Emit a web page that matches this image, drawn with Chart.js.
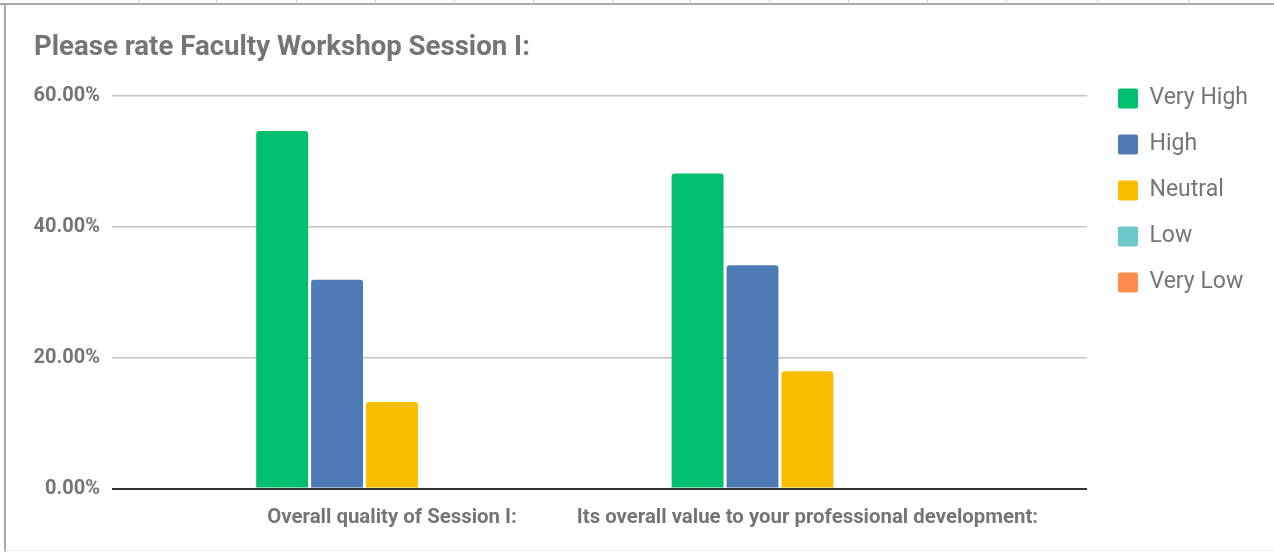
<!DOCTYPE html>
<html><head><meta charset="utf-8">
<script src="https://cdn.jsdelivr.net/npm/chart.js@4.4.0/dist/chart.umd.min.js"></script>
<style>
html,body{margin:0;padding:0;background:#fff;width:1274px;height:552px;overflow:hidden;}
#wrap{position:relative;width:1274px;height:552px;}
#frameTop{position:absolute;left:0;top:3px;width:1274px;height:2px;background:#a9a9a9;}
#frameLeft{position:absolute;left:4px;top:3px;width:2px;height:549px;background:#a9a9a9;}
#frameBottom{position:absolute;left:4px;top:550px;width:1270px;height:1px;background:#ededed;}
.cell{position:absolute;top:0;width:1px;height:4px;background:#cfcfcf;}
canvas{position:absolute;left:0;top:0;}
</style></head>
<body><div id="wrap">
<div id="frameTop"></div><div id="frameLeft"></div><div id="frameBottom"></div>
<div class="cell" style="left:139px"></div><div class="cell" style="left:216px"></div>
<div class="cell" style="left:296px"></div><div class="cell" style="left:375px"></div>
<div class="cell" style="left:454px"></div><div class="cell" style="left:533px"></div>
<div class="cell" style="left:612px"></div><div class="cell" style="left:690px"></div>
<div class="cell" style="left:769px"></div><div class="cell" style="left:848px"></div>
<div class="cell" style="left:927px"></div><div class="cell" style="left:1006px"></div>
<div class="cell" style="left:1097px"></div><div class="cell" style="left:1188px"></div>
<canvas id="c" width="1274" height="552"></canvas>
</div>
<script>
const categories = ['Overall quality of Session I:', 'Its overall value to your professional development:'];
const seriesNames = ['Very High', 'High', 'Neutral', 'Low', 'Very Low'];
const veryHigh = [54.6, 48.1];
const high = [31.9, 34.1];
const neutral = [13.2, 17.9];
const low = [0, 0];
const veryLow = [0, 0];
const yTicks = [0, 20, 40, 60];
const seriesColors = ['#00BF6F', '#4E7AB5', '#F9BE00', '#6CC8CA', '#FF8A4D'];
const seriesValues = [veryHigh, high, neutral, low, veryLow];

const FONT = 'Roboto, "Noto Sans", sans-serif';
const GRAY = '#757575';

const legendPlace = {
  id: 'legendPlace',
  beforeUpdate(chart) {
    const lg = chart.legend;
    if (lg && !lg._patched) {
      const f = lg.fit.bind(lg);
      lg.fit = function () { f(); this.width += 24; };
      lg._patched = true;
    }
  },
  afterLayout(chart) {
    const lg = chart.legend;
    if (!lg) return;
    lg.left += 8; lg.right += 8;
    lg.top += 64; lg.bottom += 64;
  }
};

new Chart(document.getElementById('c'), {
  type: 'bar',
  data: {
    datasets: seriesNames.map((name, k) => ({
      label: name,
      data: seriesValues[k].map((v, i) => ({ x: i, y: v })),
      backgroundColor: seriesColors[k],
      borderWidth: 0,
      borderRadius: 3,
      categoryPercentage: 0.661,
      barPercentage: 0.945
    }))
  },
  plugins: [legendPlace],
  options: {
    responsive: false,
    animation: false,
    events: [],
    layout: { padding: { left: 34, right: 0, top: 0, bottom: 13 } },
    plugins: {
      title: {
        display: true,
        text: 'Please rate Faculty Workshop Session I:',
        align: 'start',
        color: GRAY,
        font: { family: FONT, size: 27.6, weight: 'bold' },
        padding: { top: 32, bottom: 30.5 }
      },
      legend: {
        position: 'right',
        align: 'start',
        labels: {
          boxWidth: 20, boxHeight: 20, padding: 23,
          useBorderRadius: true, borderRadius: 2,
          color: GRAY,
          font: { family: FONT, size: 23 }
        }
      },
      tooltip: { enabled: false }
    },
    scales: {
      x: {
        type: 'linear',
        min: -0.674, max: 1.673,
        offset: false,
        grid: { display: false },
        border: { display: false },
        afterBuildTicks: s => { s.ticks = categories.map((c, i) => ({ value: i })); },
        ticks: {
          autoSkip: false, maxRotation: 0, padding: 9,
          color: GRAY,
          font: { family: FONT, size: 20.4, weight: 'bold' },
          callback: v => categories[v]
        }
      },
      y: {
        min: 0, max: 60,
        afterBuildTicks: s => { s.ticks = yTicks.map(v => ({ value: v })); },
        afterFit: s => { s.width = 78; },
        grid: {
          drawTicks: false,
          color: c => (c.tick && c.tick.value === 0) ? '#333333' : '#c4c4c4',
          lineWidth: c => (c.tick && c.tick.value === 0) ? 2 : 1.5
        },
        border: { display: false },
        ticks: {
          padding: 12,
          color: GRAY,
          font: { family: FONT, size: 20, weight: 'bold' },
          callback: v => v.toFixed(2) + '%'
        }
      }
    }
  }
});
</script>
</body></html>
